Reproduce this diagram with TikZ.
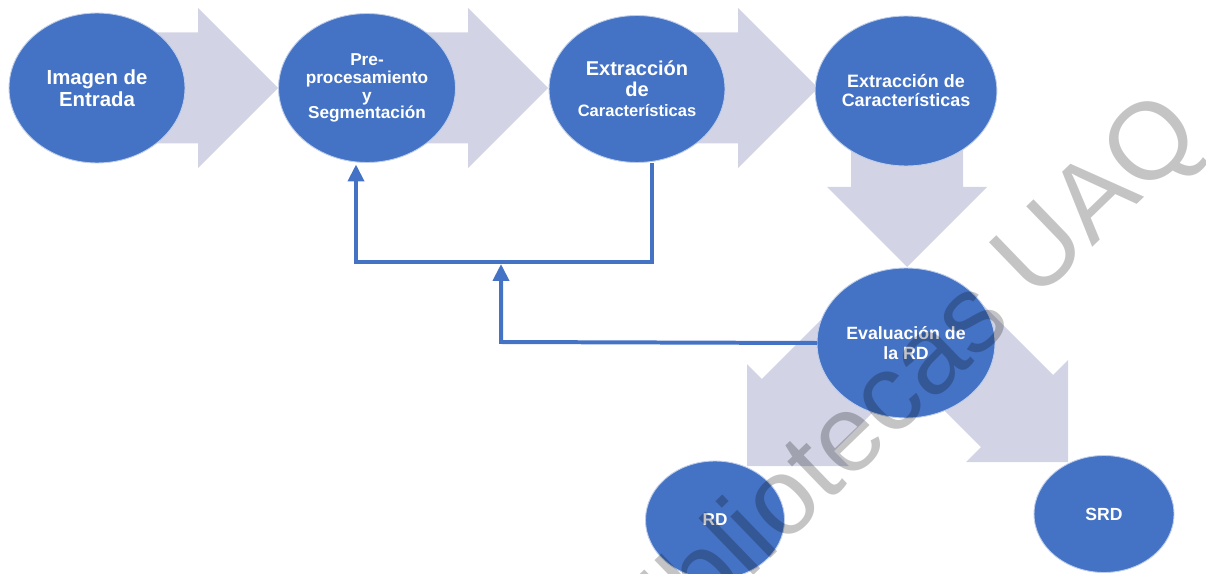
\documentclass[tikz,border=0pt]{standalone}
\usepackage{fontspec}
\setmainfont{Liberation Sans}
\usetikzlibrary{shapes.geometric,arrows.meta,calc}
\definecolor{bblue}{RGB}{68,114,196}
\definecolor{lav}{RGB}{210,212,230}
% x, y, angle, length, head half width (= head length), shaft half width
\newcommand\blockarrow[6]{%
  \begin{scope}[shift={(#1,#2)},rotate=#3]
    \fill[blockfill] (0,-#6) -- ({#4-#5},-#6) -- ({#4-#5},-#5) -- (#4,0)
      -- ({#4-#5},#5) -- ({#4-#5},#6) -- (0,#6) -- cycle;
  \end{scope}}
\begin{document}
\begin{tikzpicture}[x=0.02cm,y=-0.02cm,
  blockfill/.style={fill=lav},
  bubble/.style={ellipse,fill=bblue,draw=white!65!bblue,line width=0.5pt,
    inner sep=0pt,outer sep=0pt,text=white,align=center},
  fbline/.style={draw=bblue,line width=2.27pt,
    -{Triangle[width=0.32cm,length=0.34cm]}},
  wmark/.style={rotate=44,text=black,text opacity=0.23,
    font=\fontsize{62}{62}\selectfont}
]
\useasboundingbox (0,0) rectangle (1206,574);
\clip (0,0) rectangle (1206,574);

% block arrows
\blockarrow{97}{88}{0}{181}{80}{55.5}
\blockarrow{367}{88}{0}{181}{80}{55.5}
\blockarrow{637}{88}{0}{181}{80}{55.5}
\blockarrow{907}{91}{-90}{176}{80}{56}
\blockarrow{881}{332}{-135}{189.5}{72}{51}
\blockarrow{934}{328}{-45}{189.5}{72}{51}

% ellipses
\node[bubble,minimum width=3.52cm,minimum height=3.0cm,
  font=\bfseries\fontsize{11.6}{12.5}\selectfont] (e1) at (97,88) {Imagen de\\Entrada};
\node[bubble,minimum width=3.54cm,minimum height=2.98cm,
  font=\bfseries\fontsize{9.8}{10.2}\selectfont] (e2) at (367,88)
  {Pre-\\procesamiento\\y\\Segmentación};
\node[bubble,minimum width=3.52cm,minimum height=2.94cm,
  font=\bfseries\fontsize{11.4}{11.8}\selectfont] (e3) at (637,89)
  {Extracción\\de\\{\fontsize{9.4}{11.3}\selectfont Características}};
\node[bubble,minimum width=3.54cm,minimum height=3.0cm,
  font=\bfseries\fontsize{10.2}{10.8}\selectfont] (e4) at (906,91)
  {Extracción de\\Características};
\node[bubble,minimum width=3.56cm,minimum height=3.0cm,
  font=\bfseries\fontsize{10.1}{11.3}\selectfont] (e5) at (906,343)
  {Evaluación de\\la RD};
\node[bubble,minimum width=2.78cm,minimum height=2.36cm,
  font=\bfseries\fontsize{9.8}{11}\selectfont] (rd) at (715,520) {RD};
\node[bubble,minimum width=2.80cm,minimum height=2.34cm,
  font=\bfseries\fontsize{10}{11}\selectfont] (srd) at (1104,514) {SRD};

% feedback connectors
\coordinate (c1) at (652,262);
\coordinate (c2) at (356,262);
\coordinate (c3) at (501,342);
\coordinate (c4) at (501,264);
\draw[fbline] ($(e3.south)+(15,1)$) -- (c1) -- (c2) -- ($(e2.south)+(-11,2)$);
\draw[fbline] (e5.west) -- (c3) -- (c4);

% watermark
\node[wmark] (wm) at (900,393) {Bibliotecas UAQ};
\end{tikzpicture}
\end{document}
